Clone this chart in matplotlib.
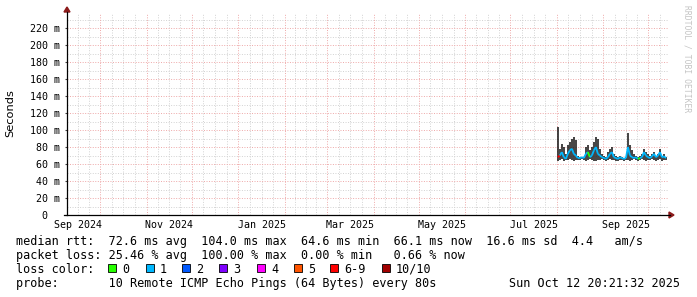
import matplotlib
matplotlib.use("Agg")
import matplotlib.pyplot as plt
import matplotlib.dates as mdates
from matplotlib.collections import LineCollection
from matplotlib.patches import Polygon, Rectangle
from matplotlib.lines import Line2D
import numpy as np
import pandas as pd
from datetime import datetime, timedelta

# smokeping 400 day view, values in ms
sample_start = "2025-08-01 16:00"
smoke_max = [104, 78, 84, 80, 72, 82, 86, 90, 92, 88,
             70, 68, 68, 67, 80, 82, 76, 80, 86, 92,
             90, 78, 72, 70, 68, 74, 78, 80, 72, 70,
             68, 70, 68, 67, 68, 97, 82, 76, 72, 70,
             68, 70, 72, 78, 74, 72, 70, 72, 74, 70,
             72, 78, 70, 72, 68]
smoke_min = [64, 65, 66, 64, 65, 65, 66, 65, 64, 65,
             65, 65, 66, 65, 64, 65, 66, 65, 64, 64,
             65, 65, 66, 65, 64, 65, 66, 65, 65, 64,
             64, 65, 65, 64, 65, 65, 64, 65, 66, 65,
             64, 65, 66, 65, 64, 65, 65, 66, 65, 64,
             65, 66, 64, 65, 65]
median = [68, 70, 74, 68, 66, 72, 76, 78, 72, 70,
          67, 67, 68, 67, 72, 74, 68, 70, 76, 80,
          72, 70, 68, 67, 66, 68, 72, 74, 68, 67,
          66, 68, 67, 66, 67, 80, 70, 68, 67, 68,
          66, 67, 68, 74, 70, 68, 67, 69, 72, 68,
          70, 74, 68, 69, 67]
loss = [1] * 55
loss[0] = 6
loss[15] = 0
loss[40] = 0

loss_labels = ["0", "1", "2", "3", "4", "5", "6-9", "10/10"]
loss_colors = ["#26ff00", "#00b8ff", "#0059ff", "#7e00ff",
               "#ff00ff", "#ff5500", "#ff0000", "#a10000"]
loss_key = {0: 0, 1: 1, 2: 2, 3: 3, 4: 4, 5: 5, 6: 6, 7: 6, 8: 6, 9: 6, 10: 7}

y_ticks = [0, 20, 40, 60, 80, 100, 120, 140, 160, 180, 200, 220]
y_labels = ["0\u00a0\u00a0", "20 m", "40 m", "60 m", "80 m", "100 m", "120 m",
            "140 m", "160 m", "180 m", "200 m", "220 m"]

line1 = "median rtt:  72.6 ms avg  104.0 ms max  64.6 ms min  66.1 ms now  16.6 ms sd  4.4   am/s"
line2 = "packet loss: 25.46 % avg  100.00 % max  0.00 % min   0.66 % now"
line4 = "probe:       10 Remote ICMP Echo Pings (64 Bytes) every 80s"
stamp = "Sun Oct 12 20:21:32 2025"

W, H = 697, 297
MONO = "DejaVu Sans Mono"

def fx(px):
    return px / W

def fy(py):
    return 1 - py / H

t_start = datetime(2024, 9, 9, 0, 0)
t_end = t_start + timedelta(days=400)
times = pd.date_range(sample_start, periods=len(median), freq="32h")
tn = mdates.date2num(times.to_pydatetime())

fig = plt.figure(figsize=(W / 100, H / 100), dpi=100)
ax = fig.add_axes([fx(67), fy(215), fx(601), (215 - 14) / H])
ax.set_xlim(mdates.date2num(t_start), mdates.date2num(t_end))
ax.set_ylim(0, 236.5)

MAJ = "#eea8a8"
MIN = "#d2d2d2"
dots = (0, (1, 1.6))

# grid: months major, quarter months minor
months = pd.date_range("2024-09-01", "2025-11-01", freq="MS")
for i in range(len(months) - 1):
    a = mdates.date2num(months[i].to_pydatetime())
    b = mdates.date2num(months[i + 1].to_pydatetime())
    for k in (1, 2, 3):
        ax.axvline(a + (b - a) * k / 4, color=MIN, lw=0.7, ls=dots, zorder=0)
    ax.axvline(a, color=MAJ, lw=0.7, ls=dots, zorder=0.5)
for v in range(10, 240, 20):
    ax.axhline(v, color=MIN, lw=0.7, ls=dots, zorder=0)
for v in y_ticks[1:]:
    ax.axhline(v, color=MAJ, lw=0.7, ls=dots, zorder=0.5)

# labels centered in the middle of odd months
lab_pos, lab_txt = [], []
for i in range(0, len(months) - 1, 2):
    a = mdates.date2num(months[i].to_pydatetime())
    b = mdates.date2num(months[i + 1].to_pydatetime())
    lab_pos.append((a + b) / 2)
    lab_txt.append(months[i].strftime("%b %Y"))
ax.set_xticks(lab_pos)
ax.set_xticklabels(lab_txt, fontfamily=MONO, fontsize=7.2)
ax.tick_params(axis="x", length=0, pad=3.8)
ax.set_yticks(y_ticks)
ax.set_yticklabels(y_labels, fontfamily=MONO, fontsize=7.2)
ax.tick_params(axis="y", length=1.5, width=0.8, pad=3.6, color="#444444")

for s in ("top", "right", "left", "bottom"):
    ax.spines[s].set_visible(False)

# smoke
ax.vlines(tn, smoke_min, smoke_max, color="#111111", lw=1.1, zorder=2)

# median line colored by loss
segs, cols = [], []
for i in range(len(tn) - 1):
    segs.append([(tn[i], median[i]), (tn[i + 1], median[i + 1])])
    cols.append(loss_colors[loss_key[loss[i]]])
ax.add_collection(LineCollection(segs, colors=cols, linewidths=1.3, zorder=3))

# axes with arrows
fig.add_artist(Line2D([fx(67), fx(67)], [fy(215), fy(12)], color="black", lw=0.9))
fig.add_artist(Line2D([fx(64), fx(670)], [fy(215), fy(215)], color="black", lw=0.9))
fig.add_artist(Polygon([(fx(64), fy(12)), (fx(70), fy(12)), (fx(67), fy(7))],
                       closed=True, color="#8b1a1a", transform=fig.transFigure))
fig.add_artist(Polygon([(fx(669), fy(212)), (fx(669), fy(218)), (fx(674), fy(215))],
                       closed=True, color="#8b1a1a", transform=fig.transFigure))

fig.text(fx(10), fy(113.5), "Seconds", rotation=90, ha="center", va="center",
         fontsize=8.2, fontfamily="DejaVu Sans")
fig.text(fx(687), fy(5), "RRDTOOL / TOBI OETIKER", rotation=-90, ha="center", va="top",
         fontsize=5.8, fontfamily=MONO, color="#c4c4c4")

# legend
fig.text(fx(16), fy(245), line1, fontsize=8.5, fontfamily=MONO, va="baseline")
fig.text(fx(16), fy(259), line2, fontsize=8.5, fontfamily=MONO, va="baseline")
fig.text(fx(16), fy(273), "loss color:", fontsize=8.5, fontfamily=MONO, va="baseline")
box_x = [108, 146, 182, 219, 257, 294, 330, 382]
for bx, lbl, c in zip(box_x, loss_labels, loss_colors):
    fig.add_artist(Rectangle((fx(bx), fy(272)), 8 / W, 8 / H, facecolor=c,
                             edgecolor="black", lw=0.6, transform=fig.transFigure))
    fig.text(fx(bx + 14), fy(273), lbl, fontsize=8.5, fontfamily=MONO, va="baseline")
fig.text(fx(16), fy(287), line4, fontsize=8.5, fontfamily=MONO, va="baseline")
fig.text(fx(680), fy(287), stamp, fontsize=8.5, fontfamily=MONO, va="baseline", ha="right")

fig.savefig("out.png", dpi=100)
